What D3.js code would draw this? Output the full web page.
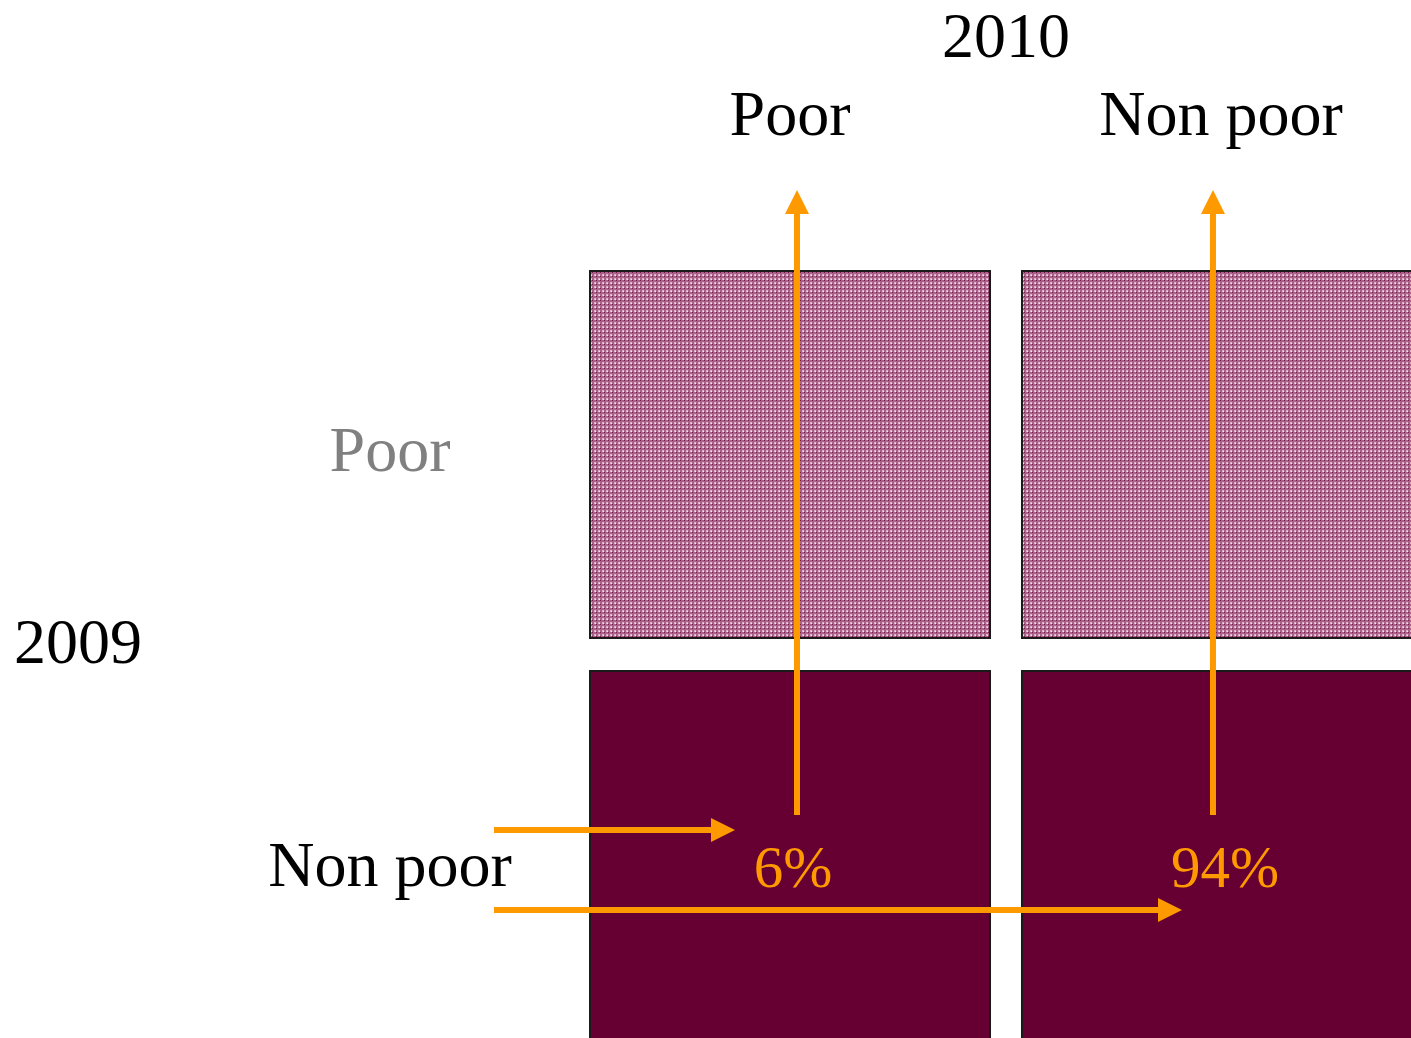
<!DOCTYPE html>
<html>
<head>
<meta charset="utf-8">
<script src="https://cdn.jsdelivr.net/npm/d3@7"></script>
<style>
  html, body { margin: 0; padding: 0; background: #fff; overflow: hidden; }
  svg { display: block; }
  text { font-family: "Liberation Serif", "Times New Roman", serif; }
</style>
</head>
<body>
<svg id="chart" width="1411" height="1038"></svg>
<script>
// Poverty transitions: status in 2009 (rows) vs status in 2010 (columns)
const statusYear1 = ["Poor", "Non poor"];   // 2009 rows
const statusYear2 = ["Poor", "Non poor"];   // 2010 columns
const year1 = "2009";
const year2 = "2010";
// Share of 2009 non poor ending up in each 2010 status
const nonPoorTransitions = [6, 94];

const svg = d3.select("#chart");
const orange = "#ff9900";
const dark = "#660033";

// Checked fill for the 2009 poor row
const defs = svg.append("defs");
const pat = defs.append("pattern")
  .attr("id", "check").attr("patternUnits", "userSpaceOnUse")
  .attr("width", 4).attr("height", 4);
pat.append("rect").attr("width", 4).attr("height", 4).attr("fill", "#a9628a");
pat.append("rect").attr("x", 2).attr("y", 2).attr("width", 2).attr("height", 2).attr("fill", "#dcb0c6");
pat.append("rect").attr("x", 3).attr("y", 3).attr("width", 1).attr("height", 1).attr("fill", "#f6e6ee");
pat.append("rect").attr("x", 0).attr("y", 0).attr("width", 1).attr("height", 1).attr("fill", "#7a1a48");

const x = d3.scaleBand().domain(statusYear2).range([590, 1422]).paddingInner(0.074).paddingOuter(0);
const y = d3.scaleBand().domain(statusYear1).range([271, 1038]).paddingInner(0.0825).paddingOuter(0);

// Cells
const cells = [];
statusYear1.forEach(r => statusYear2.forEach(c => cells.push({ r, c })));
svg.append("g").selectAll("rect").data(cells).join("rect")
  .attr("x", d => x(d.c))
  .attr("y", d => y(d.r))
  .attr("width", x.bandwidth())
  .attr("height", d => d.r === "Non poor" ? y.bandwidth() + 4 : y.bandwidth())
  .attr("fill", d => d.r === "Poor" ? "url(#check)" : dark)
  .attr("stroke", "#1a1a1a")
  .attr("stroke-width", 2);

// Year titles
svg.append("text").attr("x", 1006).attr("y", 57).attr("text-anchor", "middle")
  .attr("font-size", 64).attr("fill", "#000").text(year2);
svg.append("text").attr("x", 14).attr("y", 663).attr("text-anchor", "start")
  .attr("font-size", 64).attr("fill", "#000").text(year1);

// Column labels (2010)
svg.append("g").selectAll("text").data(statusYear2).join("text")
  .attr("x", (d, i) => x(d) + x.bandwidth() / 2 + (i === 0 ? 0 : -1))
  .attr("y", 135)
  .attr("text-anchor", "middle")
  .attr("font-size", 64)
  .attr("fill", "#000")
  .text(d => d);

// Row labels (2009)
const rowBaselineOffset = [16, 31];
svg.append("g").selectAll("text").data(statusYear1).join("text")
  .attr("x", 390)
  .attr("y", (d, i) => y(d) + y.bandwidth() / 2 + rowBaselineOffset[i])
  .attr("text-anchor", "middle")
  .attr("font-size", 64)
  .attr("fill", d => d === "Poor" ? "#808080" : "#000")
  .text(d => d);

// Arrow helper
function arrow(x1, y1, x2, y2) {
  const g = svg.append("g");
  const ang = Math.atan2(y2 - y1, x2 - x1);
  const head = 24, half = 12;
  const bx = x2 - head * Math.cos(ang), by = y2 - head * Math.sin(ang);
  g.append("line").attr("x1", x1).attr("y1", y1).attr("x2", bx).attr("y2", by)
    .attr("stroke", orange).attr("stroke-width", 6);
  const px = -Math.sin(ang) * half, py = Math.cos(ang) * half;
  g.append("path")
    .attr("d", `M${x2},${y2}L${bx + px},${by + py}L${bx - px},${by - py}Z`)
    .attr("fill", orange);
}

// Flows from 2009 non poor into each 2010 column
const rowNP = y("Non poor");
const vOffsets = [207, 191];
const hArrowY = [830, 910];
const hTips = [735, 1182];
statusYear2.forEach((c, i) => {
  const vx = x(c) + vOffsets[i];
  arrow(494, hArrowY[i], hTips[i], hArrowY[i]);
  arrow(vx, rowNP + 144, vx, 190);
});

// Transition shares
svg.append("g").selectAll("text").data(nonPoorTransitions).join("text")
  .attr("x", (d, i) => x(statusYear2[i]) + x.bandwidth() / 2 + 3)
  .attr("y", 887)
  .attr("text-anchor", "middle")
  .attr("font-size", 59)
  .attr("fill", orange)
  .text(d => d + "%");
</script>
</body>
</html>
